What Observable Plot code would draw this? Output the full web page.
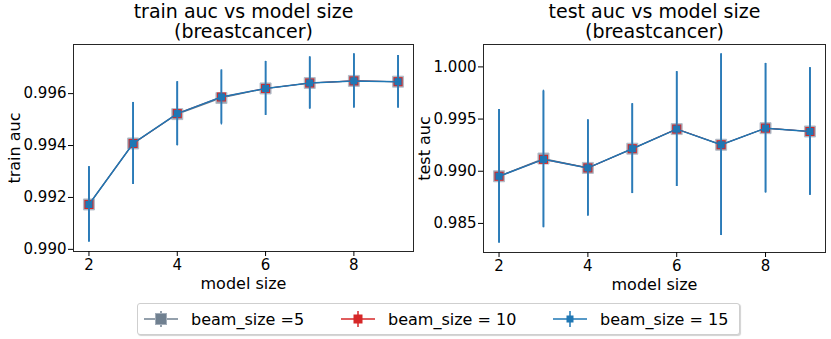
<!DOCTYPE html>
<html>
<head>
<meta charset="utf-8">
<script src="https://cdn.jsdelivr.net/npm/d3@7"></script>
<script src="https://cdn.jsdelivr.net/npm/@observablehq/plot@0.6"></script>
<style>
  html, body { margin: 0; padding: 0; background: white; }
  #root { position: relative; width: 831px; height: 339px; background: white; font-family: "DejaVu Sans", sans-serif; overflow: hidden; }
  .panel { position: absolute; top: 0; }
  #legend { position: absolute; left: 137px; top: 303px; width: 601px; height: 30px; border: 1px solid #cfcfcf; border-radius: 3px; background: white; box-shadow: 1px 1px 1px rgba(0,0,0,0.18); }
</style>
</head>
<body>
<div id="root"></div>
<script>
// ---- data ----
const modelSize = [2, 3, 4, 5, 6, 7, 8, 9];
const beamLabels = ["beam_size =5", "beam_size = 10", "beam_size = 15"];

const trainBeam5  = [0.99173, 0.99408, 0.99521, 0.99583, 0.99620, 0.99641, 0.99649, 0.99646];
const trainBeam10 = [0.99173, 0.99408, 0.99523, 0.99587, 0.99620, 0.99641, 0.99649, 0.99646];
const trainBeam15 = [0.99173, 0.99408, 0.99523, 0.99587, 0.99620, 0.99641, 0.99649, 0.99646];
const trainErr    = [0.00145, 0.00158, 0.00123, 0.00104, 0.00104, 0.00100, 0.00104, 0.00101];

const testBeam5  = [0.98952, 0.99122, 0.99032, 0.99216, 0.99404, 0.99254, 0.99413, 0.99381];
const testBeam10 = [0.98952, 0.99114, 0.99032, 0.99216, 0.99404, 0.99254, 0.99413, 0.99381];
const testBeam15 = [0.98952, 0.99114, 0.99032, 0.99216, 0.99404, 0.99254, 0.99413, 0.99381];
const testErr    = [0.00640, 0.00655, 0.00460, 0.00430, 0.00550, 0.00870, 0.00620, 0.00610];

const xTicks = [2, 4, 6, 8];
const trainYTicks = [0.990, 0.992, 0.994, 0.996];
const testYTicks = [0.985, 0.990, 0.995, 1.000];

// ---- styles ----
const seriesFill = ["#9aa4b2", "#d62728", "#1f77b4"];
const seriesLine = ["#708090", "#d62728", "#1f77b4"];
const barColor = "#2b7bb8";
const markerR = [6.2, 5.1, 4.0];
const FONT = "DejaVu Sans";

function rows(means, errs) {
  return modelSize.map((x, i) => ({x, y: means[i], lo: means[i] - errs[i], hi: means[i] + errs[i]}));
}

function panel({series, errs, yTicks, title, ylabel, width, height, marginLeft, marginRight, marginBottom, labelDx}) {
  const data = series.map(m => rows(m, errs));
  const all = data.flat();
  const lo = d3.min(all, d => d.lo), hi = d3.max(all, d => d.hi);
  const pad = 0.05 * (hi - lo);
  const marks = [];
  data.forEach((d, i) => {
    marks.push(Plot.line(d, {x: "x", y: "y", stroke: seriesLine[i], strokeWidth: i === 2 ? 1.5 : 1.1}));
    marks.push(Plot.ruleX(d, {x: "x", y1: "lo", y2: "hi", stroke: barColor, strokeWidth: i === 2 ? 1.8 : 1.2}));
    marks.push(Plot.dot(d, {x: "x", y: "y", symbol: "square", r: markerR[i], fill: seriesFill[i],
      stroke: i === 0 ? "#b4bcc7" : "none", strokeWidth: 1}));
  });
  const [t1, t2] = title;
  return Plot.plot({
    width, height, marginLeft, marginRight, marginTop: 44, marginBottom,
    style: {fontFamily: FONT, fontSize: "15px", color: "black", background: "white", overflow: "visible"},
    x: {domain: [1.65, 9.35]},
    y: {domain: [lo - pad, hi + pad]},
    marks: [
      ...marks,
      Plot.frame({stroke: "#262626", strokeWidth: 1}),
      Plot.axisX({ticks: xTicks, tickSize: 5, tickPadding: 2.5, tickFormat: d3.format("d"), label: null, fontSize: 15}),
      Plot.axisY({ticks: yTicks, tickSize: 5, tickPadding: 2, tickFormat: d3.format(".3f"), label: null, fontSize: 15}),
      Plot.text([t1], {frameAnchor: "top", lineAnchor: "middle", dy: -32.5, fontSize: 19, fill: "black", textAnchor: "middle"}),
      Plot.text([t2], {frameAnchor: "top", lineAnchor: "middle", dy: -12.3, fontSize: 19, fill: "black", textAnchor: "middle"}),
      Plot.text(["model size"], {frameAnchor: "bottom", lineAnchor: "middle", dy: 32, fontSize: 16, fill: "black", textAnchor: "middle"}),
      Plot.text([ylabel], {frameAnchor: "left", lineAnchor: "middle", rotate: -90, dx: labelDx, fontSize: 16, fill: "black", textAnchor: "middle"})
    ]
  });
}

const root = document.getElementById("root");

const left = panel({
  series: [trainBeam5, trainBeam10, trainBeam15], errs: trainErr, yTicks: trainYTicks,
  title: ["train auc vs model size", "(breastcancer)"], ylabel: "train auc",
  width: 415, height: 300, marginLeft: 73, marginRight: 2, marginBottom: 49, labelDx: -59
});
left.classList.add("panel"); left.style.left = "0px";
root.appendChild(left);

const right = panel({
  series: [testBeam5, testBeam10, testBeam15], errs: testErr, yTicks: testYTicks,
  title: ["test auc vs model size", "(breastcancer)"], ylabel: "test auc",
  width: 416, height: 300, marginLeft: 68, marginRight: 6, marginBottom: 48, labelDx: -58.5
});
right.classList.add("panel"); right.style.left = "415px";
root.appendChild(right);

// ---- legend ----
const legend = d3.select(root).append("div").attr("id", "legend");
const lsvg = legend.append("svg").attr("width", 601).attr("height", 30).style("display", "block");
const itemX = [6, 203, 415];   // start of sample line within the legend box
const sqSide = [11, 9, 7];
beamLabels.forEach((lab, i) => {
  const g = lsvg.append("g").attr("transform", `translate(${itemX[i]},15)`);
  g.append("line").attr("x1", 0).attr("x2", 34).attr("y1", 0).attr("y2", 0).attr("stroke", seriesLine[i]).attr("stroke-width", 1.5);
  g.append("line").attr("x1", 17).attr("x2", 17).attr("y1", -8).attr("y2", 8).attr("stroke", seriesLine[i]).attr("stroke-width", 1.5);
  const s = sqSide[i];
  g.append("rect").attr("x", 17 - s / 2).attr("y", -s / 2).attr("width", s).attr("height", s)
    .attr("fill", i === 0 ? "#708090" : seriesFill[i]).attr("stroke", i === 0 ? "#a3adb9" : "none");
  g.append("text").attr("x", 47).attr("y", 5.5).attr("font-family", FONT).attr("font-size", 16).attr("fill", "black").text(lab);
});
</script>
</body>
</html>
